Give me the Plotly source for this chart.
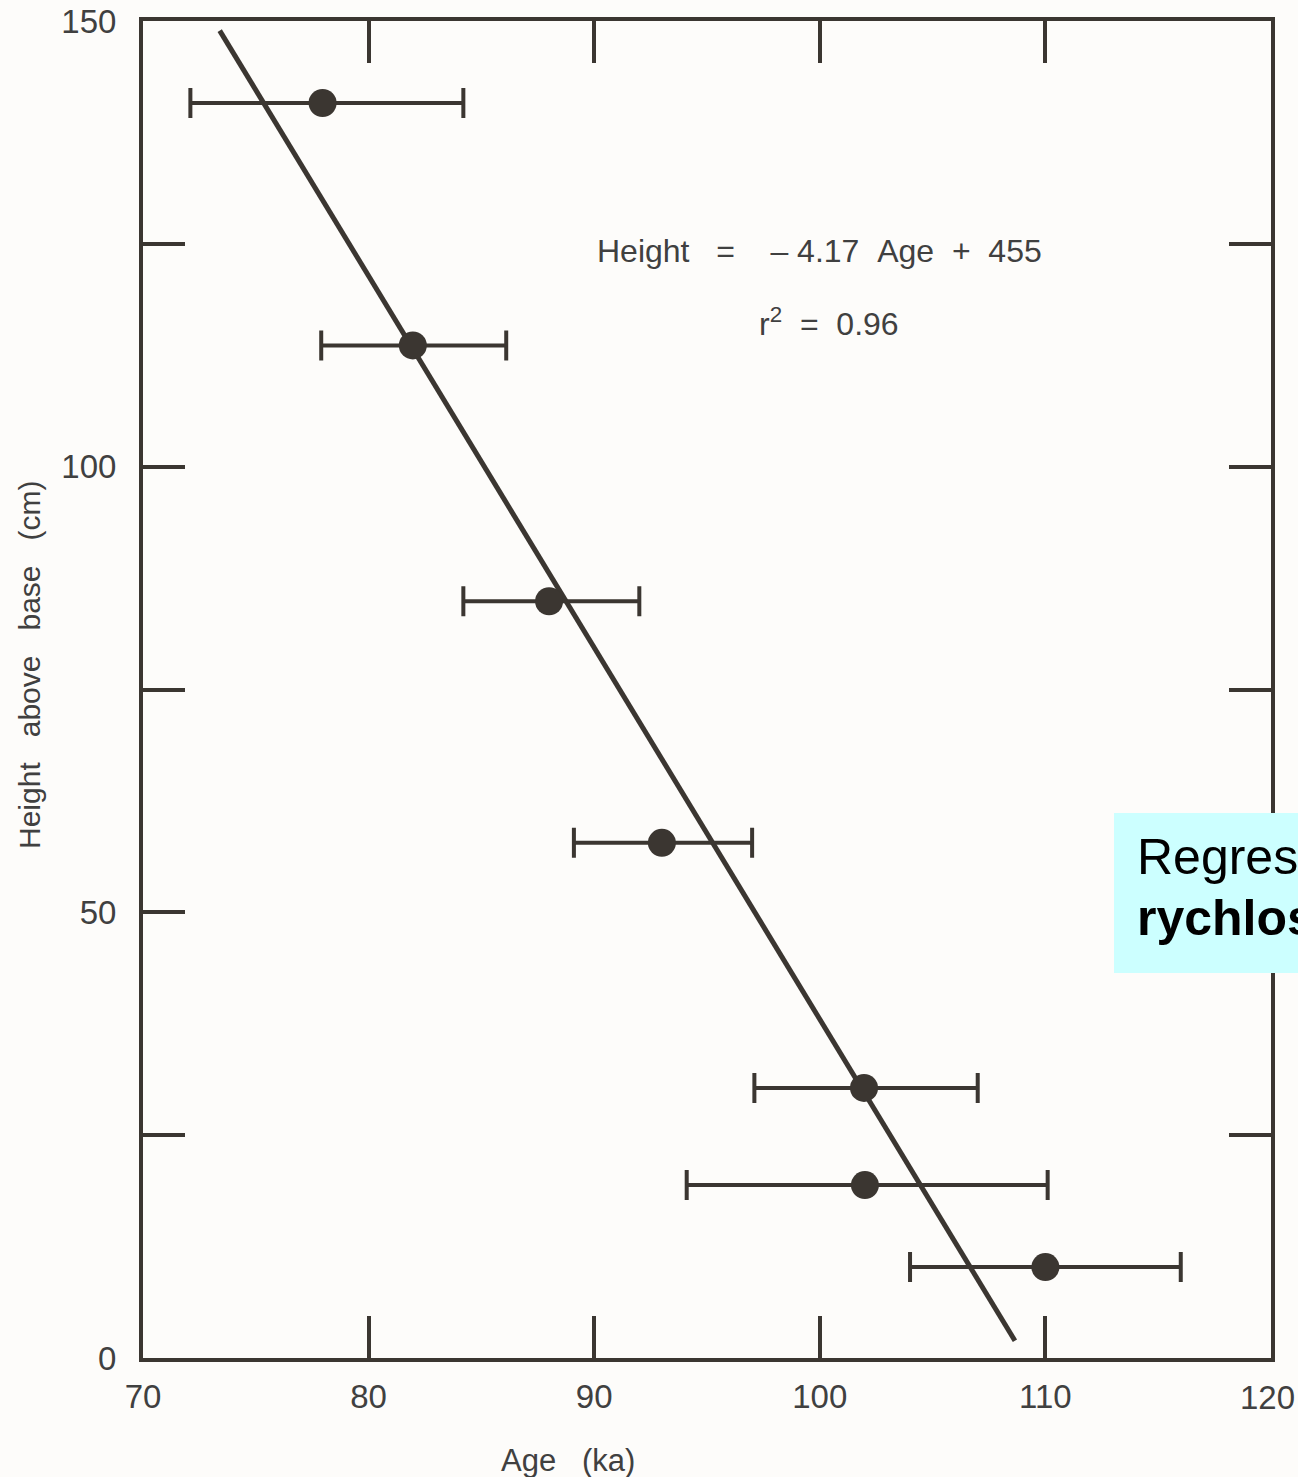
import plotly.graph_objects as go

# ---- data ----
age = [77.96, 81.96, 88.0, 93.0, 101.96, 102.0, 110.0]
height = [140.8, 113.6, 84.9, 57.8, 30.3, 19.4, 10.2]
age_lo = [72.1, 77.9, 84.2, 89.1, 97.1, 94.1, 104.0]
age_hi = [84.2, 86.1, 92.0, 97.0, 107.0, 110.1, 116.0]

slope = -4.17
intercept = 455
fit_age = [73.4, 108.65]
fit_height = [slope * a + intercept for a in fit_age]

x_ticks = [70, 80, 90, 100, 110]
x_last_tick = 120
y_ticks = [0, 50, 100, 150]
y_minor_ticks = [25, 75, 125]

ink = "#3b3631"
txt = "#404040"
font_family = "Liberation Sans, Arial, Helvetica, sans-serif"
narrow_family = "Liberation Sans Narrow, Liberation Sans, Arial, sans-serif"
NB = "\u00a0"

W, H = 1298, 1477
L, R, T, B = 143, 27, 21, 119
PW, PH = W - L - R, H - T - B


def px_x(px):
    return (px - L) / PW


def px_y(py):
    return (H - B - py) / PH


fig = go.Figure()

fig.add_trace(go.Scatter(
    x=fit_age, y=fit_height, mode="lines",
    line=dict(color=ink, width=5), showlegend=False, hoverinfo="skip"))

fig.add_trace(go.Scatter(
    x=age, y=height, mode="markers",
    marker=dict(color=ink, size=28),
    error_x=dict(type="data", symmetric=False,
                 array=[h - a for a, h in zip(age, age_hi)],
                 arrayminus=[a - l for a, l in zip(age, age_lo)],
                 color=ink, thickness=4, width=15),
    showlegend=False))

axis_common = dict(
    showline=True, linecolor=ink, linewidth=4, mirror="allticks",
    ticks="inside", tickcolor=ink, tickwidth=4, ticklen=42,
    showgrid=False, zeroline=False, automargin=False,
)

fig.update_xaxes(
    range=[70, 120], tickvals=x_ticks,
    tickfont=dict(family=narrow_family, size=33, color=txt),
    ticklabelstandoff=6,
    **axis_common)
fig.update_yaxes(
    range=[0, 150], tickvals=y_ticks,
    minor=dict(tickvals=y_minor_ticks, ticks="inside", ticklen=42,
               tickwidth=4, tickcolor=ink, showgrid=False),
    tickfont=dict(family=narrow_family, size=33, color=txt),
    ticklabelstandoff=16,
    **axis_common)

# last x tick label, at the very right edge of the page
fig.add_annotation(
    x=px_x(1297), y=px_y(1397), xref="paper", yref="paper",
    xanchor="right", yanchor="middle", showarrow=False,
    text=str(x_last_tick),
    font=dict(family=narrow_family, size=33, color=txt))

# axis titles (placed where the reference has them)
fig.add_annotation(
    x=px_x(568), y=px_y(1460), xref="paper", yref="paper",
    xanchor="center", yanchor="middle", showarrow=False,
    text="Age" + NB * 3 + "(ka)",
    font=dict(family=narrow_family, size=31, color=txt))
fig.add_annotation(
    x=px_x(30), y=px_y(665), xref="paper", yref="paper",
    xanchor="center", yanchor="middle",
    showarrow=False, textangle=-90,
    text="Height" + NB * 3 + "above" + NB * 3 + "base" + NB * 3 + "(cm)",
    font=dict(family=narrow_family, size=30, color=txt))

fig.add_annotation(
    x=100.0, y=124.2, xref="x", yref="y", showarrow=False,
    text="Height" + NB * 3 + "=" + NB * 4 + "\u2013" + NB + "4.17" + NB * 2 + "Age" + NB * 2 + "+" + NB * 2 + "455",
    font=dict(family=font_family, size=32, color=txt))
fig.add_annotation(
    x=100.4, y=116.2, xref="x", yref="y", showarrow=False,
    text="r<sup>2</sup>" + NB * 2 + "=" + NB * 2 + "0.96",
    font=dict(family=font_family, size=32, color=txt))

# cyan overlay label, cut off at right edge as in the reference
fig.add_shape(type="rect", xref="paper", yref="paper",
              x0=px_x(1114), x1=px_x(1320),
              y0=px_y(973), y1=px_y(813),
              fillcolor="#ccffff", line=dict(width=0), layer="above")
fig.add_annotation(
    x=px_x(1135), y=px_y(857), xref="paper", yref="paper",
    xanchor="left", yanchor="middle",
    showarrow=False, text="Regres",
    font=dict(family=font_family, size=50, color="#000000"))
fig.add_annotation(
    x=px_x(1135), y=px_y(918), xref="paper", yref="paper",
    xanchor="left", yanchor="middle",
    showarrow=False, text="<b>rychlos</b>",
    font=dict(family=font_family, size=50, color="#000000"))

fig.update_layout(
    width=W, height=H,
    margin=dict(l=L, r=R, t=T, b=B, autoexpand=False),
    paper_bgcolor="#fdfcfa", plot_bgcolor="#fdfcfa",
)

fig.write_html("out.html")
